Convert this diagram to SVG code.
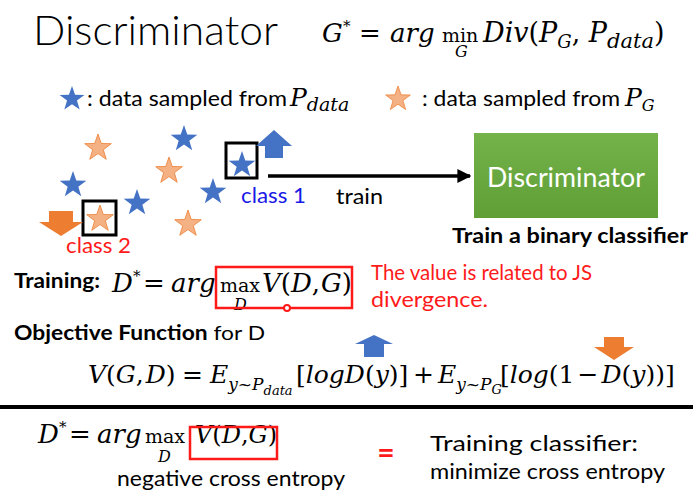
<svg xmlns="http://www.w3.org/2000/svg" width="693" height="495" viewBox="0 0 693 495">
<style>
.sans{font-family:Lato,"Open Sans","Liberation Sans",sans-serif}
.bold{font-weight:bold}
.math{font-family:"DejaVu Serif","Liberation Serif",serif;font-style:italic}
.up{font-style:normal}
.blue{fill:#4472C4}
.orange{fill:#F4B183;stroke:#ED7D31;stroke-width:0.8}
.box{fill:none;stroke:#000;stroke-width:3}
.red{fill:none;stroke:#FF1A1A;stroke-width:2.5}
</style>
<defs>
<path id="star" d="M0,-14 L3.29,-4.53 L13.31,-4.33 L5.33,1.73 L8.23,11.33 L0,5.6 L-8.23,11.33 L-5.33,1.73 L-13.31,-4.33 L-3.29,-4.53 Z"/>
<linearGradient id="green" x1="0" y1="0" x2="0" y2="1">
<stop offset="0" stop-color="#74B24A"/>
<stop offset="1" stop-color="#5F9F36"/>
</linearGradient>
<marker id="ah" viewBox="0 0 10 10" refX="9" refY="5" markerWidth="4" markerHeight="4" orient="auto" markerUnits="strokeWidth">
<path d="M0,0 L10,5 L0,10 Z" fill="#000"/>
</marker>
</defs>
<rect width="693" height="495" fill="#fff"/>

<g id="title">
<text class="sans" x="33" y="45" font-size="42" font-weight="300" textLength="245" lengthAdjust="spacingAndGlyphs">Discriminator</text>
<text class="math" font-size="26">
<tspan x="322" y="42">G</tspan><tspan x="343" y="31" font-size="15" class="up">*</tspan>
<tspan x="359" y="42" class="up">=</tspan>
<tspan x="390" y="42">arg</tspan>
<tspan x="442" y="42" class="up" font-size="19">min</tspan>
<tspan x="455" y="57" font-size="16">G</tspan>
<tspan x="483" y="42" font-size="27">Div</tspan><tspan class="up" font-size="27">(</tspan><tspan font-size="27">P</tspan><tspan font-size="18" dy="6">G</tspan><tspan class="up" dy="-6" font-size="27">, </tspan><tspan font-size="27">P</tspan><tspan font-size="21" dy="6">data</tspan><tspan class="up" dy="-6" font-size="27">)</tspan>
</text>
</g>

<g id="legend">
<use href="#star" class="blue" transform="translate(72 99) scale(0.93)"/>
<text class="sans" x="87" y="106" font-size="22" textLength="200" lengthAdjust="spacingAndGlyphs">: data sampled from</text>
<text class="math" font-size="25"><tspan x="290" y="106">P</tspan><tspan font-size="19" dy="5">data</tspan></text>
<use href="#star" class="orange" transform="translate(398 99) scale(0.93)"/>
<text class="sans" x="422" y="106" font-size="22" textLength="198" lengthAdjust="spacingAndGlyphs">: data sampled from</text>
<text class="math" font-size="25"><tspan x="625" y="106">P</tspan><tspan font-size="16" dy="5">G</tspan></text>
</g>

<g id="samples">
<use href="#star" x="98" y="148" class="orange"/>
<use href="#star" x="184" y="139" class="blue"/>
<use href="#star" x="169" y="171" class="orange"/>
<use href="#star" x="73" y="185" class="blue"/>
<use href="#star" x="137" y="203" class="blue"/>
<use href="#star" x="213" y="192" class="blue"/>
<use href="#star" x="188" y="224" class="orange"/>
</g>

<g id="class1">
<use href="#star" x="242" y="165" class="blue"/>
<rect class="box" x="226" y="143" width="31" height="35"/>
<polygon points="256,146 274,130 292,146 283,146 283,158 265,158 265,146" fill="#4472C4"/>
<text class="sans" x="241" y="203" font-size="21" fill="#1A1AE6" textLength="65" lengthAdjust="spacingAndGlyphs">class 1</text>
</g>

<g id="class2">
<use href="#star" x="100" y="219" class="orange"/>
<rect class="box" x="83" y="201" width="33" height="34"/>
<polygon points="49,211 73,211 73,222 83,222 61,236 39,222 49,222" fill="#ED7D31"/>
<text class="sans" x="66" y="253" font-size="21" fill="#FF1A1A" textLength="65" lengthAdjust="spacingAndGlyphs">class 2</text>
</g>

<g id="connectors">
<line x1="268" y1="176" x2="470" y2="176" stroke="#000" stroke-width="3.5" marker-end="url(#ah)"/>
<text class="sans" x="336" y="204" font-size="21" textLength="47" lengthAdjust="spacingAndGlyphs">train</text>
</g>

<g id="discriminator">
<rect x="474" y="133" width="184" height="85" fill="url(#green)"/>
<text class="sans" x="566" y="187" font-size="27" fill="#fff" text-anchor="middle" textLength="158" lengthAdjust="spacingAndGlyphs">Discriminator</text>
<text class="sans bold" x="452" y="243" font-size="20" textLength="236" lengthAdjust="spacingAndGlyphs">Train a binary classifier</text>
</g>

<g id="training">
<text class="sans bold" x="14" y="288" font-size="20" textLength="86" lengthAdjust="spacingAndGlyphs">Training:</text>
<text class="math" font-size="26">
<tspan x="112" y="292">D</tspan><tspan x="133" y="281" font-size="15" class="up">*</tspan>
<tspan x="143" y="292" class="up">=</tspan>
<tspan x="171" y="292">arg</tspan>
<tspan x="220" y="292" class="up" font-size="19">max</tspan>
<tspan x="234" y="310" font-size="16">D</tspan>
<tspan x="262" y="292">V</tspan><tspan class="up">(</tspan>D<tspan class="up">,</tspan><tspan dx="1">G</tspan><tspan class="up">)</tspan>
</text>
<rect class="red" x="216" y="267" width="136" height="41"/>
<circle cx="287" cy="308" r="3" fill="#fff" stroke="#FF1A1A" stroke-width="2"/>
<text class="sans" font-size="21" fill="#FF1A1A"><tspan x="371" y="280" textLength="221" lengthAdjust="spacingAndGlyphs">The value is related to JS</tspan><tspan x="371" y="307" textLength="117" lengthAdjust="spacingAndGlyphs">divergence.</tspan></text>
</g>

<g id="objective">
<text class="sans" x="14" y="340" font-size="20" textLength="251" lengthAdjust="spacingAndGlyphs"><tspan class="bold">Objective Function</tspan> for D</text>
<polygon points="355,344 374,335 393,344 384,344 384,357 364,357 364,344" fill="#4472C4"/>
<polygon points="604,337 624,337 624,347 634,347 614,360 594,347 604,347" fill="#ED7D31"/>
<text class="math" font-size="25">
<tspan x="88" y="383">V</tspan><tspan class="up">(</tspan>G<tspan class="up">,</tspan><tspan dx="2">D</tspan><tspan class="up">)</tspan>
<tspan x="182" y="383" class="up">=</tspan>
<tspan x="210" y="383">E</tspan><tspan font-size="17" dy="7">y<tspan class="up">~</tspan>P</tspan><tspan font-size="13" dy="5">data</tspan>
<tspan x="296" y="383" class="up">[</tspan>logD<tspan class="up">(</tspan>y<tspan class="up">)]</tspan>
<tspan x="413" y="383" class="up">+</tspan>
<tspan x="438" y="383">E</tspan><tspan font-size="17" dy="7">y<tspan class="up">~</tspan>P</tspan><tspan font-size="13" dy="4">G</tspan>
<tspan x="500" y="383" class="up">[</tspan>log<tspan class="up">(1</tspan><tspan class="up" dx="3">−</tspan><tspan dx="3">D</tspan><tspan class="up">(</tspan>y<tspan class="up">))]</tspan>
</text>
</g>

<line x1="0" y1="407" x2="693" y2="407" stroke="#000" stroke-width="4"/>

<g id="bottom">
<text class="math" font-size="26">
<tspan x="38" y="443">D</tspan><tspan x="59" y="432" font-size="15" class="up">*</tspan>
<tspan x="69" y="443" class="up">=</tspan>
<tspan x="97" y="443">arg</tspan>
<tspan x="145" y="443" class="up" font-size="19">max</tspan>
<tspan x="158" y="462" font-size="16">D</tspan>
<tspan x="195" y="443" font-size="24">V<tspan class="up">(</tspan>D<tspan class="up">,</tspan>G<tspan class="up">)</tspan></tspan>
</text>
<rect class="red" x="190" y="427" width="87" height="32"/>
<text class="sans" x="117" y="486" font-size="22" textLength="228" lengthAdjust="spacingAndGlyphs">negative cross entropy</text>
<text class="sans bold" x="386" y="463" font-size="30" fill="#FF1A1A" text-anchor="middle">=</text>
<text class="sans" font-size="22"><tspan x="430" y="451" textLength="208" lengthAdjust="spacingAndGlyphs">Training classifier:</tspan><tspan x="430" y="479" textLength="235" lengthAdjust="spacingAndGlyphs">minimize cross entropy</tspan></text>
</g>
</svg>
